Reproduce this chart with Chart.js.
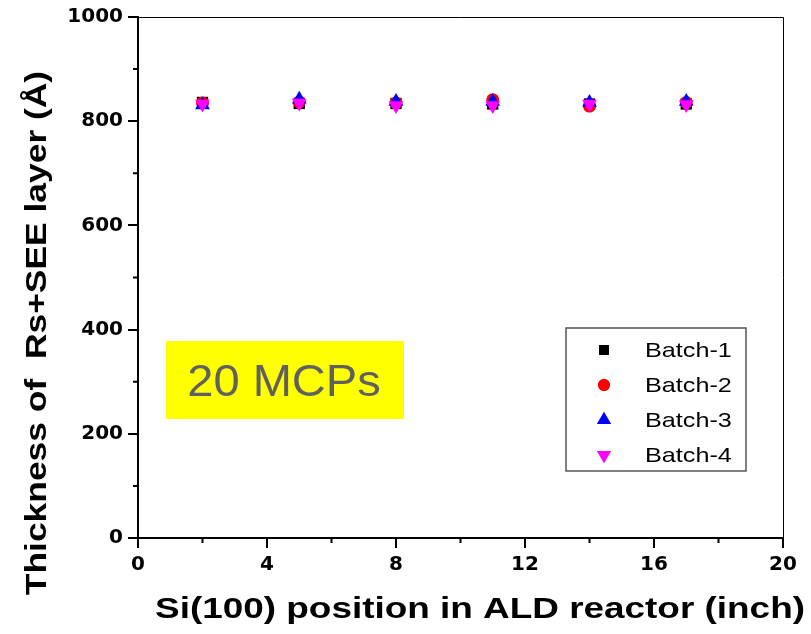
<!DOCTYPE html>
<html><head><meta charset="utf-8">
<script src="https://cdn.jsdelivr.net/npm/chart.js@4/dist/chart.umd.min.js"></script>
<style>html,body{margin:0;padding:0;background:#fff}#wrap{width:811px;height:634px}</style>
</head><body><div id="wrap"><canvas id="c" width="811" height="634"></canvas></div>
<script>
const positions = [2, 5, 8, 11, 14, 17];
const batch1 = [836, 834, 834, 833, 833, 833];
const batch2 = [835, 837, 835, 841, 829, 836];
const batch3 = [831, 842, 838, 838, 836, 838];
const batch4 = [833, 835, 830, 830, 833, 832];
const seriesNames = ['Batch-1', 'Batch-2', 'Batch-3', 'Batch-4'];
const xTicks = [0, 4, 8, 12, 16, 20];
const yTicks = [0, 200, 400, 600, 800, 1000];
const xTitle = 'Si(100) position in ALD reactor (inch)';
const yTitle = 'Thickness of  Rs+SEE layer (Å)';
const annotation = '20 MCPs';

const mk = (vals) => positions.map((x, i) => ({x, y: vals[i]}));
const FAM = '"Liberation Sans", Arial, sans-serif';
const TICKFAM = '"DejaVu Sans", sans-serif';

function stretchedText(ctx, text, x, y, sx) {
  ctx.save();
  ctx.translate(x, y);
  ctx.scale(sx, 1);
  ctx.fillText(text, 0, 0);
  ctx.restore();
}

const extras = {
  id: 'extras',
  afterDraw(chart) {
    const ctx = chart.ctx, a = chart.chartArea;
    const xs = chart.scales.x, ys = chart.scales.y;
    ctx.save();
    ctx.strokeStyle = '#000'; ctx.lineWidth = 1;
    ctx.beginPath();
    ctx.moveTo(a.left, a.top + 0.5); ctx.lineTo(a.right + 0.5, a.top + 0.5); ctx.lineTo(a.right + 0.5, a.bottom);
    ctx.stroke();
    ctx.lineWidth = 2;
    ctx.beginPath();
    for (let v = 2; v < 20; v += 4) { const px = xs.getPixelForValue(v); ctx.moveTo(px, a.bottom); ctx.lineTo(px, a.bottom + 5); }
    for (let v = 100; v < 1000; v += 200) { const py = ys.getPixelForValue(v); ctx.moveTo(a.left, py); ctx.lineTo(a.left - 5, py); }
    ctx.stroke();
    // annotation box
    ctx.fillStyle = '#ffff00';
    ctx.fillRect(166, 341, 238, 78);
    ctx.fillStyle = '#606060';
    ctx.font = '44px ' + FAM;
    ctx.textAlign = 'center'; ctx.textBaseline = 'middle';
    stretchedText(ctx, annotation, 284, 384, 1.07);
    // legend
    ctx.fillStyle = '#fff';
    ctx.fillRect(566, 328, 180, 143);
    ctx.strokeStyle = '#555'; ctx.lineWidth = 1.5;
    ctx.strokeRect(566, 328, 180, 143);
    const rowsY = [350, 385, 420, 455];
    chart.data.datasets.forEach((ds, i) => {
      const r = ds.pointStyle === 'rect' ? 7 : (ds.pointStyle === 'circle' ? 6 : 8);
      ctx.fillStyle = ds.backgroundColor;
      Chart.helpers.drawPoint(ctx, {pointStyle: ds.pointStyle, rotation: ds.rotation || 0, radius: r, borderWidth: 0}, 604, rowsY[i]);
      ctx.fill();
      ctx.fillStyle = '#000';
      ctx.font = '21px ' + FAM;
      ctx.textAlign = 'left'; ctx.textBaseline = 'middle';
      stretchedText(ctx, ds.label, 645, rowsY[i] + 1, 1.2);
    });
    // axis titles
    ctx.fillStyle = '#000';
    ctx.font = 'bold 30px ' + FAM;
    ctx.textAlign = 'center'; ctx.textBaseline = 'middle';
    stretchedText(ctx, xTitle, 480, 610, 1.23);
    ctx.translate(38, 333);
    ctx.rotate(-Math.PI / 2);
    ctx.scale(1.18, 1);
    ctx.fillText(yTitle, 0, 0);
    ctx.restore();
  }
};

const styles = [
  {c: '#000000', s: 'rect', r: 8, rot: 0},
  {c: '#ff0000', s: 'circle', r: 6.5, rot: 0},
  {c: '#0000ff', s: 'triangle', r: 8.5, rot: 0},
  {c: '#ff00ff', s: 'triangle', r: 8.5, rot: 180}
];
const allData = [batch1, batch2, batch3, batch4];

new Chart(document.getElementById('c'), {
  type: 'scatter',
  data: {
    datasets: allData.map((v, i) => ({
      label: seriesNames[i],
      data: mk(v),
      order: 3 - i,
      backgroundColor: styles[i].c,
      borderColor: styles[i].c,
      borderWidth: 0,
      pointStyle: styles[i].s,
      pointRadius: styles[i].r,
      rotation: styles[i].rot
    }))
  },
  options: {
    responsive: false,
    animation: false,
    layout: {padding: {top: 17, right: 28, left: 0, bottom: 0}},
    plugins: {legend: {display: false}, tooltip: {enabled: false}},
    scales: {
      x: {
        type: 'linear', min: 0, max: 20,
        afterBuildTicks: s => { s.ticks = xTicks.map(v => ({value: v})); },
        afterFit: s => { s.height = 96; },
        border: {color: '#000', width: 2},
        grid: {drawOnChartArea: false, tickLength: 10, color: '#000', lineWidth: 2},
        ticks: {color: '#000', font: {family: TICKFAM, size: 20, weight: 'bold'}, padding: 5, maxRotation: 0, callback: v => String(v)}
      },
      y: {
        type: 'linear', min: 0, max: 1000,
        afterBuildTicks: s => { s.ticks = yTicks.map(v => ({value: v})); },
        afterFit: s => { s.width = 138; },
        border: {color: '#000', width: 2},
        grid: {drawOnChartArea: false, tickLength: 10, color: '#000', lineWidth: 2},
        ticks: {color: '#000', font: {family: TICKFAM, size: 20, weight: 'bold'}, padding: 5, callback: v => String(v)}
      }
    }
  },
  plugins: [extras]
});
</script>
</body></html>
